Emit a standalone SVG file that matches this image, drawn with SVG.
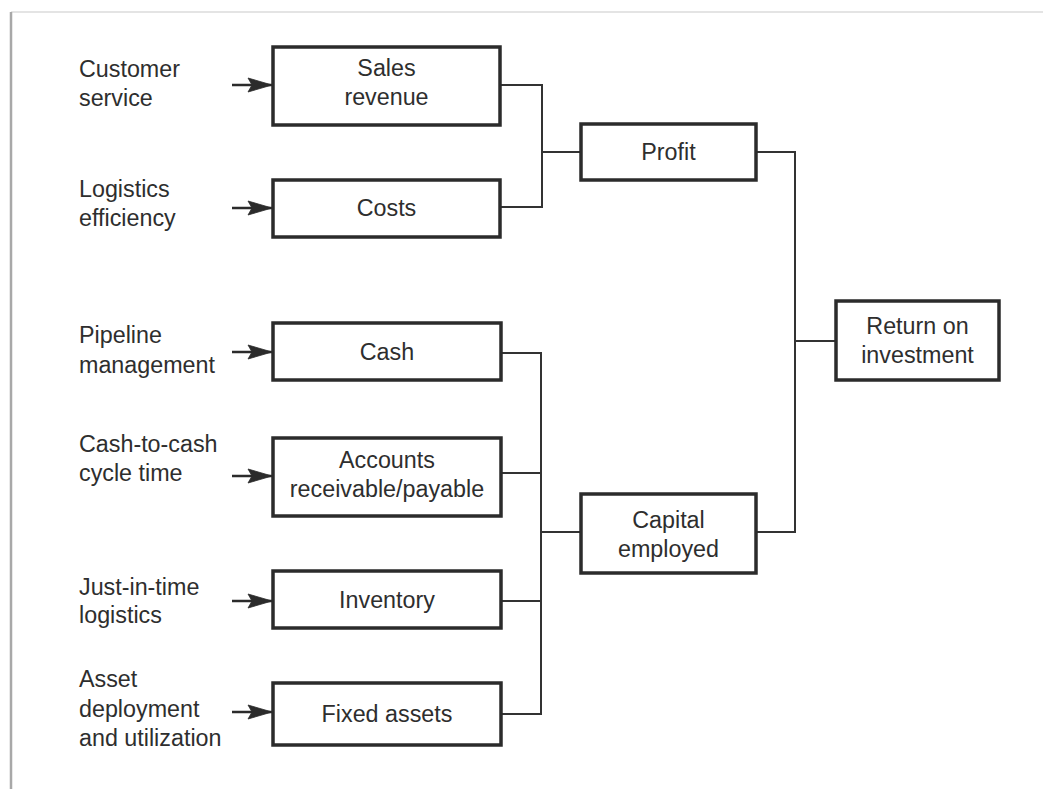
<svg xmlns="http://www.w3.org/2000/svg" width="1043" height="789" viewBox="0 0 1043 789">
  <style>
    .box { fill: #ffffff; stroke: #2b2b2b; stroke-width: 3.5; }
    .wire { fill: none; stroke: #333333; stroke-width: 2; }
    .feed { fill: none; stroke: #2b2b2b; stroke-width: 2.4; }
    .lbl { font-family: "Liberation Sans", Arial, sans-serif; font-size: 23.3px; fill: #2e2e2e; }
    .mid { text-anchor: middle; }
  </style>
  <defs>
    <marker id="head" viewBox="0 0 24 14" refX="24" refY="7" markerWidth="24" markerHeight="14" markerUnits="userSpaceOnUse" orient="auto" overflow="visible">
      <path d="M24,7 L0,0 L4,7 L0,14 Z" fill="#2b2b2b" stroke="#2b2b2b" stroke-width="0.8" stroke-linejoin="miter"/>
    </marker>
  </defs>

  <rect width="1043" height="789" fill="#ffffff"/>
  <!-- page frame -->
  <line x1="11" y1="12" x2="1043" y2="12" stroke="#e4e4e4" stroke-width="2"/>
  <line x1="11" y1="12" x2="11" y2="789" stroke="#a8a8a8" stroke-width="2.5"/>

  <!-- connectors -->
  <g id="connectors">
    <path class="wire" d="M500,85 H542 V207 H500"/>
    <path class="wire" d="M542,152 H581"/>
    <path class="wire" d="M756,152 H795 V532 H756"/>
    <path class="wire" d="M795,341 H836"/>
    <path class="wire" d="M501,353 H541 V714 H501"/>
    <path class="wire" d="M501,473 H541"/>
    <path class="wire" d="M501,601 H541"/>
    <path class="wire" d="M541,532 H581"/>
    <g class="feed" marker-end="url(#head)">
      <line x1="232" y1="85" x2="272" y2="85"/>
      <line x1="232" y1="208" x2="272" y2="208"/>
      <line x1="232" y1="352" x2="272" y2="352"/>
      <line x1="232" y1="476" x2="272" y2="476"/>
      <line x1="232" y1="601" x2="272" y2="601"/>
      <line x1="232" y1="712" x2="272" y2="712"/>
    </g>
  </g>

  <!-- driver labels -->
  <g id="driver-customer-service"><text class="lbl" x="79" y="77">Customer</text><text class="lbl" x="79" y="106">service</text></g>
  <g id="driver-logistics-efficiency"><text class="lbl" x="79" y="197">Logistics</text><text class="lbl" x="79" y="226">efficiency</text></g>
  <g id="driver-pipeline"><text class="lbl" x="79" y="343">Pipeline</text><text class="lbl" x="79" y="373">management</text></g>
  <g id="driver-c2c"><text class="lbl" x="79" y="452">Cash-to-cash</text><text class="lbl" x="79" y="481">cycle time</text></g>
  <g id="driver-jit"><text class="lbl" x="79" y="595">Just-in-time</text><text class="lbl" x="79" y="623">logistics</text></g>
  <g id="driver-asset"><text class="lbl" x="79" y="687">Asset</text><text class="lbl" x="79" y="717">deployment</text><text class="lbl" x="79" y="746">and utilization</text></g>

  <!-- boxes -->
  <g id="sales-revenue"><rect class="box" x="273" y="47" width="227" height="78"/><text class="lbl mid" x="386.5" y="76">Sales</text><text class="lbl mid" x="386.5" y="105">revenue</text></g>
  <g id="costs"><rect class="box" x="273" y="180" width="227" height="57"/><text class="lbl mid" x="386.5" y="216">Costs</text></g>
  <g id="cash"><rect class="box" x="273" y="323" width="228" height="57"/><text class="lbl mid" x="387" y="360">Cash</text></g>
  <g id="accounts"><rect class="box" x="273" y="438" width="228" height="78"/><text class="lbl mid" x="387" y="468">Accounts</text><text class="lbl mid" x="387" y="497">receivable/payable</text></g>
  <g id="inventory"><rect class="box" x="273" y="571" width="228" height="57"/><text class="lbl mid" x="387" y="608">Inventory</text></g>
  <g id="fixed-assets"><rect class="box" x="273" y="683" width="228" height="62"/><text class="lbl mid" x="387" y="722">Fixed assets</text></g>
  <g id="profit"><rect class="box" x="581" y="124" width="175" height="56"/><text class="lbl mid" x="668.5" y="160">Profit</text></g>
  <g id="capital-employed"><rect class="box" x="581" y="494" width="175" height="79"/><text class="lbl mid" x="668.5" y="528">Capital</text><text class="lbl mid" x="668.5" y="557">employed</text></g>
  <g id="roi"><rect class="box" x="836" y="301" width="163" height="79"/><text class="lbl mid" x="917.5" y="334">Return on</text><text class="lbl mid" x="917.5" y="363">investment</text></g>
</svg>
